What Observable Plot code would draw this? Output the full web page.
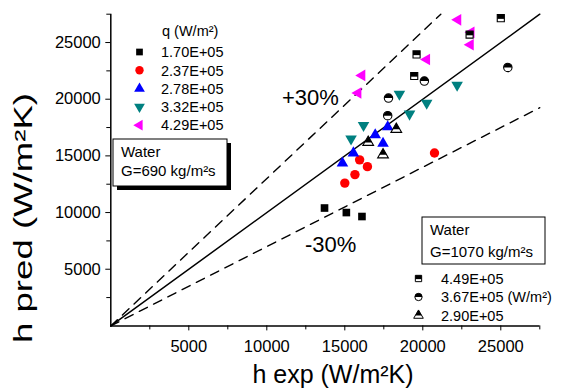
<!DOCTYPE html>
<html><head><meta charset="utf-8">
<script src="https://cdn.jsdelivr.net/npm/d3@7"></script>
<script src="https://cdn.jsdelivr.net/npm/@observablehq/plot@0.6"></script>
<style>
body{margin:0;background:#fff;}
svg{font-family:"Liberation Sans",Arial,sans-serif;}
</style>
</head><body><div id="chart"></div>
<script>
// ---- data ----
const xMax = 27500, yMax = 27500;
const majorTicks = [5000, 10000, 15000, 20000, 25000];
const minorTicks = [2500, 7500, 12500, 17500, 22500, 27500];

// G = 690 kg/m2s, heat flux q (W/m2)
const q690Labels = ["1.70E+05", "2.37E+05", "2.78E+05", "3.32E+05", "4.29E+05"];
const exp_170 = [13700, 15100, 16100];
const pred_170 = [10400, 10000, 9650];
const exp_237 = [15000, 15650, 15950, 16450, 20750];
const pred_237 = [12600, 13350, 14650, 14050, 15250];
const exp_278 = [14850, 15550, 16950, 17450, 17750];
const pred_278 = [14350, 15250, 16850, 16100, 17550];
const exp_332 = [15400, 16200, 18500, 19150, 20250, 22200];
const pred_332 = [16500, 17700, 20450, 18700, 19650, 21250];
const exp_429 = [15850, 16100, 20250, 22250, 23100, 23050];
const pred_429 = [20550, 22100, 23500, 27000, 25900, 24800];

// G = 1070 kg/m2s
const q1070Labels = ["4.49E+05", "3.67E+05 (W/m²)", "2.90E+05"];
const exp_449 = [25000, 23000, 19600, 19450];
const pred_449 = [27150, 25700, 23950, 22050];
const exp_367 = [25450, 20100, 17800, 17750];
const pred_367 = [22800, 21600, 20100, 18550];
const exp_290 = [18300, 16500, 17450];
const pred_290 = [17350, 16200, 15100];

const bandFactors = [1, 1.3, 0.7];
const bandLabels = ["+30%", "-30%"];

// ---- symbols ----
const sqrt3 = Math.sqrt(3);
const squareTop = {draw(c, size) { const w = Math.sqrt(size); c.moveTo(-w/2, -w/2); c.lineTo(w/2, -w/2); c.lineTo(w/2, w*0.1); c.lineTo(-w/2, w*0.1); c.closePath(); }};
const circleTop = {draw(c, size) { const r = Math.sqrt(size/Math.PI); c.moveTo(r, 0); c.arc(0, 0, r, 0, Math.PI, true); c.closePath(); }};
const triangleTop = {draw(c, size) { const h = Math.sqrt(size/(sqrt3*3)); const yc = -2*h + 0.68*3*h; const hw = sqrt3*h*(yc + 2*h)/(3*h); c.moveTo(0, -2*h); c.lineTo(hw, yc); c.lineTo(-hw, yc); c.closePath(); }};

const pts = (xs, ys) => xs.map((x, i) => ({x, y: ys[i]}));

const filledSeries = [
  {data: pts(exp_170, pred_170), fill: "#000000", symbol: "square", r: 4.3, rotate: 0},
  {data: pts(exp_237, pred_237), fill: "#ff0000", symbol: "circle", r: 4.7, rotate: 0},
  {data: pts(exp_278, pred_278), fill: "#0000ff", symbol: "triangle", r: 4.3, rotate: 0},
  {data: pts(exp_332, pred_332), fill: "#008080", symbol: "triangle", r: 4.3, rotate: 180},
  {data: pts(exp_429, pred_429), fill: "#ff00ff", symbol: "triangle", r: 4.3, rotate: -90}
];
const halfSeries = [
  {data: pts(exp_449, pred_449), symbol: "square", top: squareTop, r: 4.0},
  {data: pts(exp_367, pred_367), symbol: "circle", top: circleTop, r: 4.2},
  {data: pts(exp_290, pred_290), symbol: "triangle", top: triangleTop, r: 4.0}
];

const refLines = bandFactors.map(f => {
  const xe = Math.min(xMax, yMax / f);
  return [{x: 0, y: 0}, {x: xe, y: xe * f}];
});

const marks = [
  Plot.line(refLines[0], {x: "x", y: "y", stroke: "black", strokeWidth: 1.5}),
  Plot.line(refLines[1], {x: "x", y: "y", stroke: "black", strokeWidth: 1.4, strokeDasharray: "9,7"}),
  Plot.line(refLines[2], {x: "x", y: "y", stroke: "black", strokeWidth: 1.4, strokeDasharray: "9,7"}),
  Plot.ruleX([0], {y1: 0, y2: yMax, stroke: "black", strokeWidth: 1.5}),
  Plot.ruleY([0], {x1: 0, x2: xMax, stroke: "black", strokeWidth: 1.5}),
  Plot.axisX(majorTicks, {tickSize: 5, tickPadding: 9, fontSize: 16.5, tickFormat: "d", label: null, stroke: "black"}),
  Plot.axisX(minorTicks, {tickSize: 4, tickFormat: () => "", label: null, stroke: "black"}),
  Plot.axisY(majorTicks, {tickSize: 5, tickPadding: 5, fontSize: 16.5, tickFormat: "d", label: null, stroke: "black"}),
  Plot.axisY(minorTicks, {tickSize: 4, tickFormat: () => "", label: null, stroke: "black"})
];
for (const s of filledSeries) {
  marks.push(Plot.dot(s.data, {x: "x", y: "y", symbol: s.symbol, r: s.r, fill: s.fill, stroke: "none", rotate: s.rotate}));
}
for (const s of halfSeries) {
  marks.push(Plot.dot(s.data, {x: "x", y: "y", symbol: s.symbol, r: s.r, fill: "white", stroke: "black", strokeWidth: 1.1}));
  marks.push(Plot.dot(s.data, {x: "x", y: "y", symbol: s.top, r: s.r, fill: "black", stroke: "none"}));
}

const svg = Plot.plot({
  width: 561, height: 392,
  marginLeft: 110.3, marginRight: 21.7, marginTop: 13.7, marginBottom: 66.6,
  x: {domain: [0, xMax], axis: null},
  y: {domain: [0, yMax], axis: null},
  style: {fontFamily: "'Liberation Sans', Arial, sans-serif", background: "white", color: "black", overflow: "visible"},
  marks
});
document.getElementById("chart").appendChild(svg);

// ---- annotations, titles and legends ----
const g = d3.select(svg).append("g")
  .attr("font-family", "'Liberation Sans', Arial, sans-serif")
  .attr("fill", "black").attr("text-anchor", "start");

g.append("text").attr("x", 282).attr("y", 105).attr("font-size", 22).text(bandLabels[0]);
g.append("text").attr("x", 305).attr("y", 252).attr("font-size", 22).text(bandLabels[1]);

g.append("text").attr("x", 333).attr("y", 383).attr("text-anchor", "middle").attr("font-size", 25).text("h exp (W/m²K)");
g.append("text").attr("transform", "translate(32,218) rotate(-90)").attr("text-anchor", "middle").attr("font-size", 25)
  .attr("textLength", 250).attr("lengthAdjust", "spacingAndGlyphs").text("h pred (W/m²K)");

// legend 1
g.append("text").attr("x", 162).attr("y", 36).attr("font-size", 14.5).text("q (W/m²)");
const leg1Sym = [
  {type: d3.symbolSquare, size: 45, rot: 0},
  {type: d3.symbolCircle, size: 55, rot: 0},
  {type: d3.symbolTriangle, size: 50, rot: 0},
  {type: d3.symbolTriangle, size: 50, rot: 180},
  {type: d3.symbolTriangle, size: 50, rot: -90}
];
q690Labels.forEach((lab, i) => {
  const cy = 52 + i * 18.3;
  g.append("path").attr("d", d3.symbol(leg1Sym[i].type, leg1Sym[i].size)())
    .attr("transform", `translate(139.5,${cy}) rotate(${leg1Sym[i].rot})`).attr("fill", filledSeries[i].fill);
  g.append("text").attr("x", 161).attr("y", cy + 5.2).attr("font-size", 14.5).text(lab);
});

// box 1 with shadow
g.append("rect").attr("x", 117).attr("y", 143).attr("width", 114).attr("height", 47).attr("fill", "black");
g.append("rect").attr("x", 113).attr("y", 139).attr("width", 114).attr("height", 47).attr("fill", "white").attr("stroke", "black").attr("stroke-width", 1);
g.append("text").attr("x", 121).attr("y", 157).attr("font-size", 15).text("Water");
g.append("text").attr("x", 121).attr("y", 176).attr("font-size", 15).text("G=690 kg/m²s");

// box 2
g.append("rect").attr("x", 422).attr("y", 217).attr("width", 123).attr("height", 47).attr("fill", "white").attr("stroke", "black").attr("stroke-width", 1);
g.append("text").attr("x", 430).attr("y", 235).attr("font-size", 15).text("Water");
g.append("text").attr("x", 430).attr("y", 257).attr("font-size", 15).text("G=1070 kg/m²s");

const leg2Sym = [
  {type: d3.symbolSquare, top: squareTop, size: 40},
  {type: d3.symbolCircle, top: circleTop, size: 42},
  {type: d3.symbolTriangle, top: triangleTop, size: 40}
];
q1070Labels.forEach((lab, i) => {
  const cy = 278.5 + i * 18.5;
  g.append("path").attr("d", d3.symbol(leg2Sym[i].type, leg2Sym[i].size)())
    .attr("transform", `translate(418.5,${cy})`).attr("fill", "white").attr("stroke", "black").attr("stroke-width", 1);
  g.append("path").attr("d", d3.symbol(leg2Sym[i].top, leg2Sym[i].size)())
    .attr("transform", `translate(418.5,${cy})`).attr("fill", "black");
  g.append("text").attr("x", 441).attr("y", cy + 5.2).attr("font-size", 14.5).text(lab);
});
</script>
</body></html>
